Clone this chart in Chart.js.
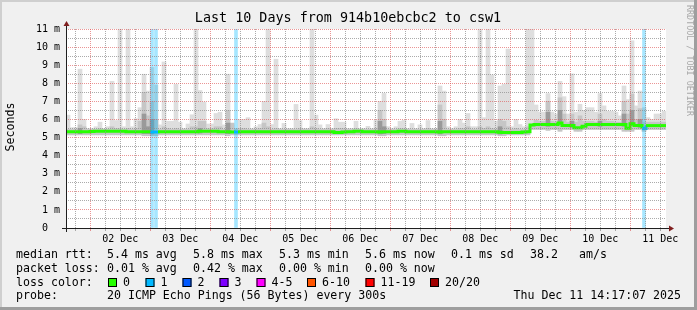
<!DOCTYPE html>
<html>
<head>
<meta charset="utf-8">
<script src="https://cdn.jsdelivr.net/npm/chart.js@4.4.1/dist/chart.umd.min.js"></script>
<style>
  html, body { margin: 0; padding: 0; background: #f0f0f0; }
</style>
</head>
<body>
<canvas id="grafico" width="697" height="310"></canvas>
<script>
// horas contadas a partir de 02 Dec 00:00, faixas de 96 minutos
const inicioHoras = -9.715;   // Mon Dec 01 14:17:07
const fimHoras = 230.285;     // Thu Dec 11 14:17:07
const passoHoras = 1.6;

const dias = ["02 Dec", "03 Dec", "04 Dec", "05 Dec", "06 Dec", "07 Dec", "08 Dec", "09 Dec", "10 Dec", "11 Dec"];

// mediana do rtt (ms) por faixa
const medianas = [
  5.32, 5.32, 5.32, 5.32, 5.32, 5.32, 5.34, 5.35, 5.35, 5.35,
  5.35, 5.35, 5.35, 5.35, 5.35, 5.32, 5.32, 5.32, 5.32, 5.32,
  5.32, 5.30, 5.30, 5.32, 5.32, 5.32, 5.32, 5.32, 5.32, 5.32,
  5.32, 5.32, 5.32, 5.35, 5.35, 5.35, 5.35, 5.35, 5.32, 5.32,
  5.32, 5.31, 5.30, 5.32, 5.32, 5.32, 5.32, 5.32, 5.32, 5.32,
  5.32, 5.32, 5.32, 5.32, 5.32, 5.32, 5.32, 5.32, 5.32, 5.32,
  5.32, 5.32, 5.32, 5.32, 5.32, 5.32, 5.32, 5.28, 5.28, 5.30,
  5.32, 5.32, 5.35, 5.35, 5.32, 5.32, 5.32, 5.32, 5.30, 5.32,
  5.32, 5.32, 5.32, 5.35, 5.35, 5.32, 5.32, 5.32, 5.32, 5.32,
  5.32, 5.32, 5.32, 5.30, 5.32, 5.32, 5.32, 5.32, 5.32, 5.32,
  5.32, 5.32, 5.32, 5.32, 5.32, 5.32, 5.32, 5.32, 5.29, 5.28,
  5.28, 5.28, 5.28, 5.28, 5.30, 5.32, 5.70, 5.72, 5.72, 5.72,
  5.72, 5.72, 5.72, 5.80, 5.66, 5.66, 5.66, 5.54, 5.54, 5.63,
  5.72, 5.72, 5.72, 5.72, 5.72, 5.72, 5.72, 5.72, 5.72, 5.72,
  5.52, 5.76, 5.66, 5.66, 5.50, 5.66, 5.66, 5.66, 5.66, 5.66
];

// fumaça: menor ping, faixa densa, maior ping (ms)
const fumacaMin = [
  5.15, 5.15, 5.15, 5.15, 5.15, 5.15, 5.15, 5.15, 5.15, 5.15,
  5.15, 5.15, 5.15, 5.15, 5.15, 5.15, 5.15, 5.15, 5.15, 5.10,
  5.10, 5.10, 5.10, 5.15, 5.15, 5.15, 5.15, 5.15, 5.15, 5.15,
  5.15, 5.15, 5.15, 5.15, 5.15, 5.15, 5.15, 5.15, 5.15, 5.15,
  5.10, 5.15, 5.15, 5.15, 5.15, 5.15, 5.15, 5.15, 5.15, 5.15,
  5.15, 5.15, 5.15, 5.15, 5.15, 5.15, 5.15, 5.15, 5.15, 5.15,
  5.15, 5.15, 5.15, 5.15, 5.15, 5.15, 5.15, 5.15, 5.15, 5.15,
  5.15, 5.15, 5.15, 5.15, 5.15, 5.15, 5.15, 5.15, 5.10, 5.10,
  5.15, 5.15, 5.15, 5.15, 5.15, 5.15, 5.15, 5.15, 5.15, 5.15,
  5.15, 5.15, 5.15, 5.10, 5.10, 5.15, 5.15, 5.15, 5.15, 5.15,
  5.15, 5.15, 5.15, 5.15, 5.15, 5.15, 5.15, 5.15, 5.10, 5.10,
  5.15, 5.15, 5.15, 5.15, 5.15, 5.15, 5.45, 5.45, 5.45, 5.45,
  5.40, 5.45, 5.45, 5.35, 5.45, 5.45, 5.45, 5.35, 5.35, 5.45,
  5.45, 5.45, 5.45, 5.45, 5.45, 5.45, 5.45, 5.45, 5.45, 5.35,
  5.35, 5.35, 5.45, 5.45, 5.35, 5.45, 5.45, 5.45, 5.45, 5.45
];

const fumacaMedia = [
  5.45, 5.45, 5.45, 5.70, 5.60, 5.45, 5.45, 5.45, 5.50, 5.45,
  5.45, 5.60, 5.50, 5.50, 5.45, 5.50, 5.45, 5.50, 5.90, 7.50,
  6.20, 7.00, 6.00, 5.45, 5.60, 5.50, 5.45, 5.50, 5.45, 5.45,
  5.45, 5.60, 5.60, 5.90, 5.90, 5.50, 5.50, 5.60, 5.60, 5.45,
  6.50, 5.80, 5.45, 5.50, 5.50, 5.45, 5.45, 5.45, 5.50, 5.80,
  5.60, 5.45, 5.50, 5.45, 5.45, 5.45, 5.45, 5.45, 5.50, 5.45,
  5.45, 5.60, 5.50, 5.45, 5.45, 5.50, 5.45, 5.50, 5.50, 5.50,
  5.45, 5.45, 5.50, 5.45, 5.45, 5.45, 5.45, 5.50, 6.50, 6.00,
  5.45, 5.45, 5.45, 5.50, 5.50, 5.45, 5.45, 5.45, 5.45, 5.45,
  5.50, 5.45, 5.45, 6.80, 6.00, 5.45, 5.45, 5.45, 5.50, 5.50,
  5.60, 5.45, 5.45, 5.60, 5.50, 5.60, 5.50, 5.45, 6.00, 5.90,
  5.60, 5.45, 5.50, 5.45, 5.45, 5.60, 5.70, 5.95, 5.90, 5.90,
  7.00, 5.90, 5.85, 7.20, 6.30, 5.85, 6.30, 5.85, 6.20, 5.90,
  5.90, 5.90, 5.85, 6.30, 6.00, 5.90, 5.90, 5.85, 5.85, 7.00,
  6.30, 7.40, 6.00, 6.60, 5.85, 5.85, 5.85, 5.85, 5.85, 5.85
];

const fumacaMax = [
  6.24, 5.55, 5.55, 8.78, 6.00, 5.50, 5.50, 5.60, 5.85, 5.50,
  5.60, 8.11, 5.94, 11.0, 5.60, 11.0, 5.60, 6.04, 6.65, 8.50,
  7.57, 8.87, 7.90, 5.70, 9.18, 5.90, 5.90, 7.94, 5.85, 5.50,
  5.75, 6.26, 11.0, 7.60, 6.96, 5.75, 5.75, 6.33, 6.40, 5.70,
  8.50, 5.70, 5.50, 6.00, 6.00, 6.10, 5.50, 5.60, 5.72, 7.00,
  11.0, 5.72, 9.33, 5.50, 5.78, 5.50, 5.50, 6.83, 5.94, 5.50,
  5.50, 11.0, 6.24, 5.70, 5.50, 5.72, 5.50, 6.04, 5.85, 5.85,
  5.50, 5.50, 5.90, 5.50, 5.50, 5.62, 5.50, 5.95, 7.00, 7.44,
  5.60, 5.50, 5.60, 5.90, 5.95, 5.50, 5.78, 5.50, 5.70, 5.50,
  5.94, 5.50, 5.50, 7.85, 7.57, 5.60, 5.50, 5.60, 6.00, 5.80,
  6.33, 5.60, 5.60, 11.0, 6.10, 11.0, 8.46, 5.90, 7.85, 7.94,
  9.89, 5.60, 6.00, 5.72, 5.60, 11.0, 11.0, 6.80, 6.41, 6.41,
  7.43, 6.41, 6.30, 8.11, 7.26, 6.30, 8.52, 6.40, 6.84, 6.50,
  6.65, 6.65, 6.40, 7.43, 6.75, 6.45, 6.45, 6.40, 6.20, 7.85,
  7.10, 10.35, 6.75, 7.57, 6.65, 6.10, 6.00, 6.30, 6.30, 6.45
];

// parte mais escura da fumaça (null = não tem)
const fumacaEscura = [
  null, null, null, 5.50, null, null, null, null, null, null,
  null, null, null, null, null, null, null, null, null, 6.30,
  5.60, 6.00, null, null, null, null, null, null, null, null,
  null, null, null, 5.50, null, null, null, null, null, null,
  5.80, null, null, null, null, null, null, null, null, null,
  null, null, null, null, null, null, null, null, null, null,
  null, null, null, null, null, null, null, null, null, null,
  null, null, null, null, null, null, null, null, 5.90, 5.60,
  null, null, null, null, null, null, null, null, null, null,
  null, null, null, 5.90, null, null, null, null, null, null,
  null, null, null, null, null, null, null, null, 5.60, null,
  null, null, null, null, null, null, null, null, null, null,
  6.40, null, null, 6.50, null, null, 5.90, null, null, null,
  null, null, null, 5.90, null, null, null, null, null, 6.30,
  null, 6.50, null, 6.00, null, null, null, null, null, null
];

// pings perdidos (de 20) por faixa
const perdas = [
  0, 0, 0, 0, 0, 0, 0, 0, 0, 0,
  0, 0, 0, 0, 0, 0, 0, 0, 0, 0,
  0, 1, 1, 0, 0, 0, 0, 0, 0, 0,
  0, 0, 0, 0, 0, 0, 0, 0, 0, 0,
  0, 0, 1, 0, 0, 0, 0, 0, 0, 0,
  0, 0, 0, 0, 0, 0, 0, 0, 0, 0,
  0, 0, 0, 0, 0, 0, 0, 0, 0, 0,
  0, 0, 0, 0, 0, 0, 0, 0, 0, 0,
  0, 0, 0, 0, 0, 0, 0, 0, 0, 0,
  0, 0, 0, 0, 0, 0, 0, 0, 0, 0,
  0, 0, 0, 0, 0, 0, 0, 0, 0, 0,
  0, 0, 0, 0, 0, 0, 0, 0, 0, 0,
  0, 0, 0, 0, 0, 0, 0, 0, 0, 0,
  0, 0, 0, 0, 0, 0, 0, 0, 0, 0,
  0, 0, 0, 0, 1, 0, 0, 0, 0, 0
];

const estatRtt = ["5.4 ms avg", "5.8 ms max", "5.3 ms min", "5.6 ms now", "0.1 ms sd", "38.2", "am/s"];
const estatPerda = ["0.01 % avg", "0.42 % max", "0.00 % min", "0.00 % now"];
const faixasPerda = ["0", "1", "2", "3", "4-5", "6-10", "11-19", "20/20"];
const limitesPerda = [0, 1, 2, 3, 5, 10, 19, 20];
const coresPerda = ["#26ff00", "#00b8ff", "#0059ff", "#7e00ff", "#ff00ff", "#ff5500", "#ff0000", "#a10000"];

const fonte = '"DejaVu Sans Mono", monospace';

function corDaPerda(p) {
  for (let k = 0; k < limitesPerda.length; k++) {
    if (p <= limitesPerda[k]) return coresPerda[k];
  }
  return coresPerda[coresPerda.length - 1];
}

function clarear(hex, a) {
  const r = parseInt(hex.slice(1, 3), 16), g = parseInt(hex.slice(3, 5), 16), b = parseInt(hex.slice(5, 7), 16);
  return "rgba(" + r + "," + g + "," + b + "," + a + ")";
}

const binsInicio = medianas.map((m, i) => inicioHoras + i * passoHoras);
const binsCentro = binsInicio.map((h) => h + passoHoras / 2);

function barras(baixo, alto) {
  const pts = [];
  alto.forEach((v, i) => {
    if (v !== null) pts.push({ x: binsCentro[i], y: [baixo[i], v] });
  });
  return pts;
}

const pontosMediana = medianas.map((m, i) => ({ x: binsInicio[i], y: m }));
pontosMediana.push({ x: fimHoras, y: medianas[medianas.length - 1] });

const pontosPerda = [];
perdas.forEach((p, i) => {
  if (p > 0) pontosPerda.push({ x: binsCentro[i], y: [0, 11], perda: p });
});

// grade de 6 em 6 horas
const horasGrade = [];
for (let h = -6; h <= 228; h += 6) horasGrade.push(h);

const corGrade = "rgba(143,143,143,0.75)";
const corGradeMaior = "rgba(222,79,79,0.6)";

// fundo, bordas e textos ao estilo rrdtool
const moldura = {
  id: "moldura",
  beforeDraw(chart) {
    const ctx = chart.ctx;
    const a = chart.chartArea;
    ctx.save();
    ctx.fillStyle = "#f0f0f0";
    ctx.fillRect(0, 0, 697, 310);
    ctx.fillStyle = "#cfcfcf";
    ctx.fillRect(0, 0, 697, 2);
    ctx.fillRect(0, 0, 2, 310);
    ctx.fillStyle = "#9e9e9e";
    ctx.fillRect(0, 307, 697, 3);
    ctx.fillRect(694, 0, 3, 310);
    ctx.fillStyle = "#ffffff";
    ctx.fillRect(a.left, a.top, a.right - a.left, a.bottom - a.top);
    ctx.restore();
  },
  afterDraw(chart) {
    const ctx = chart.ctx;
    const a = chart.chartArea;
    ctx.save();

    // eixos com setas
    ctx.strokeStyle = "rgb(31,31,31)";
    ctx.lineWidth = 1;
    ctx.beginPath();
    ctx.moveTo(a.left - 4, a.bottom + 0.5);
    ctx.lineTo(a.right + 4, a.bottom + 0.5);
    ctx.moveTo(a.left + 0.5, a.bottom + 4);
    ctx.lineTo(a.left + 0.5, a.top - 4);
    ctx.stroke();
    ctx.fillStyle = "rgb(128,31,31)";
    ctx.beginPath();
    ctx.moveTo(a.right + 3, a.bottom - 2.5);
    ctx.lineTo(a.right + 8, a.bottom + 0.5);
    ctx.lineTo(a.right + 3, a.bottom + 3.5);
    ctx.fill();
    ctx.beginPath();
    ctx.moveTo(a.left - 2.5, a.top - 3);
    ctx.lineTo(a.left + 0.5, a.top - 8);
    ctx.lineTo(a.left + 3.5, a.top - 3);
    ctx.fill();

    ctx.fillStyle = "#000";
    ctx.textBaseline = "middle";

    // título
    ctx.font = "13.4px " + fonte;
    ctx.textAlign = "center";
    ctx.fillText("Last 10 Days from 914b10ebcbc2 to csw1", 348, 19);

    // rótulo vertical
    ctx.font = "11.6px " + fonte;
    ctx.save();
    ctx.translate(11, 127);
    ctx.rotate(-Math.PI / 2);
    ctx.fillText("Seconds", 0, 0);
    ctx.restore();

    ctx.save();
    ctx.fillStyle = "#a8a8a8";
    ctx.font = "8.4px " + fonte;
    ctx.textAlign = "left";
    ctx.translate(689, 5);
    ctx.rotate(Math.PI / 2);
    ctx.fillText("RRDTOOL / TOBI OETIKER", 0, 0);
    ctx.restore();

    // legenda
    ctx.font = "11.6px " + fonte;
    ctx.textAlign = "left";
    const colunas = [107, 193, 279, 365, 451, 530, 579];
    ctx.fillText("median rtt:", 16, 255);
    estatRtt.forEach((t, i) => ctx.fillText(t, colunas[i], 255));
    ctx.fillText("packet loss:", 16, 268.5);
    estatPerda.forEach((t, i) => ctx.fillText(t, colunas[i], 268.5));

    ctx.fillText("loss color:", 16, 282.5);
    const caixas = [108, 145.5, 182.5, 219.5, 256.5, 307, 365.5, 430];
    faixasPerda.forEach((t, i) => {
      ctx.fillStyle = coresPerda[i];
      ctx.fillRect(caixas[i], 278, 9, 9);
      ctx.strokeStyle = "#000";
      ctx.strokeRect(caixas[i] + 0.5, 278.5, 8, 8);
      ctx.fillStyle = "#000";
      ctx.fillText(t, caixas[i] + 15, 282.5);
    });

    ctx.fillText("probe:", 16, 296);
    ctx.fillText("20 ICMP Echo Pings (56 Bytes) every 300s", 107, 296);
    ctx.textAlign = "right";
    ctx.fillText("Thu Dec 11 14:17:07 2025", 681, 296);
    ctx.restore();
  }
};

Chart.defaults.font.family = fonte;
Chart.defaults.color = "#000";

new Chart(document.getElementById("grafico"), {
  type: "bar",
  data: {
    datasets: [
      {
        type: "line",
        label: "median rtt",
        data: pontosMediana,
        stepped: "before",
        borderWidth: 3,
        pointRadius: 0,
        borderCapStyle: "butt",
        segment: {
          borderColor: (c) => corDaPerda(perdas[c.p0DataIndex] || 0),
        },
        borderColor: coresPerda[0],
        order: 0,
      },
      {
        label: "perda",
        data: pontosPerda,
        backgroundColor: (c) => clarear(corDaPerda(c.raw ? c.raw.perda : 1), 0.35),
        barThickness: 3,
        order: 1,
      },
      {
        label: "escura",
        data: barras(medianas.map((m) => m - 0.1), fumacaEscura),
        backgroundColor: "#9a9a9a",
        order: 2,
      },
      {
        label: "densa",
        data: barras(fumacaMin, fumacaMedia),
        backgroundColor: "#c6c6c6",
        order: 3,
      },
      {
        label: "fumaça",
        data: barras(fumacaMin, fumacaMax),
        backgroundColor: "#dedede",
        order: 4,
      },
    ],
  },
  options: {
    responsive: false,
    animation: false,
    devicePixelRatio: 1,
    layout: { padding: { top: 29, right: 31, left: 0, bottom: 0 } },
    datasets: {
      bar: { grouped: false, barPercentage: 1, categoryPercentage: 1, borderWidth: 0 },
    },
    plugins: { legend: { display: false }, tooltip: { enabled: false } },
    scales: {
      x: {
        type: "linear",
        offset: false,
        min: inicioHoras,
        max: fimHoras,
        afterBuildTicks: (scale) => {
          scale.ticks = horasGrade.map((h) => ({ value: h }));
        },
        afterFit: (scale) => {
          scale.height = 82;
        },
        grid: {
          z: 1,
          offset: false,
          color: (c) => (c.tick && c.tick.value % 24 === 0 ? corGradeMaior : corGrade),
          tickColor: (c) => (c.tick && c.tick.value % 24 === 0 ? corGradeMaior : corGrade),
          tickLength: 3,
        },
        border: { display: false, dash: [1, 1] },
        ticks: {
          autoSkip: false,
          maxRotation: 0,
          padding: 2,
          font: { size: 10, family: fonte },
          callback: (v) => (((v % 24) + 24) % 24 === 12 ? dias[(v - 12) / 24] : ""),
        },
      },
      y: {
        min: 0,
        max: 11,
        afterFit: (scale) => {
          scale.width = 66;
        },
        grid: {
          z: 1,
          drawTicks: false,
          color: (c) => (c.tick && Number.isInteger(c.tick.value) ? corGradeMaior : corGrade),
        },
        border: { display: false, dash: [1, 1] },
        ticks: {
          stepSize: 0.5,
          autoSkip: false,
          padding: 6,
          font: { size: 10, family: fonte },
          callback: (v) => (Number.isInteger(v) ? (v === 0 ? "0  " : v + " m") : ""),
        },
      },
    },
  },
  plugins: [moldura],
});
</script>
</body>
</html>
